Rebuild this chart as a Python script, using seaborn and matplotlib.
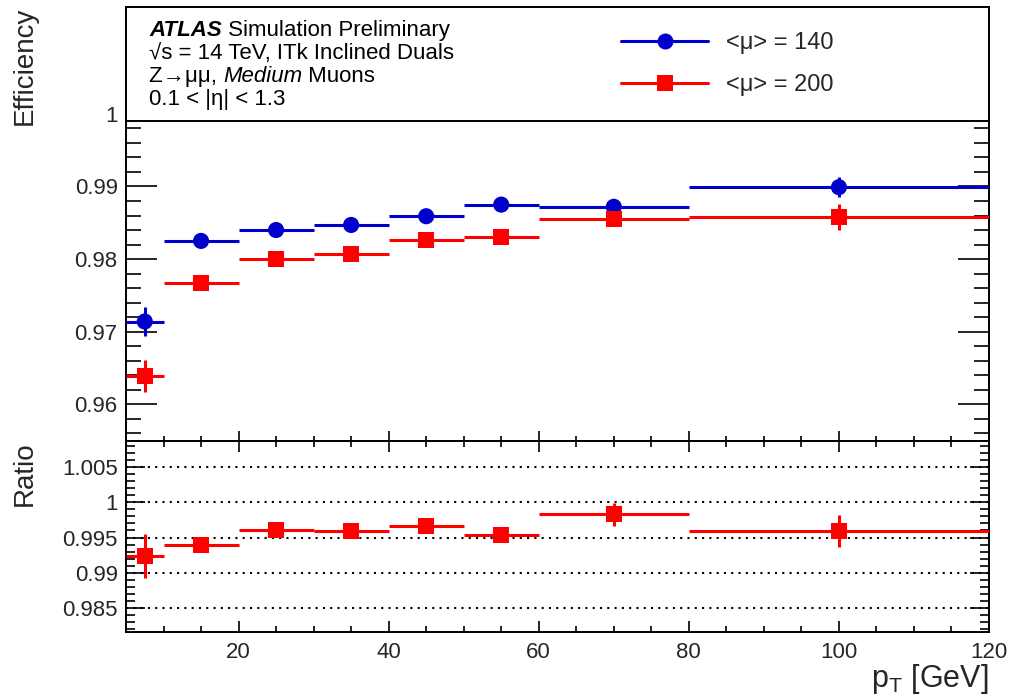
import matplotlib
matplotlib.use("Agg")
import matplotlib.pyplot as plt
import numpy as np
import pandas as pd
import seaborn as sns
from matplotlib.ticker import MultipleLocator, FixedLocator, FuncFormatter
from matplotlib.lines import Line2D
from matplotlib.patches import Rectangle

# ---------------- data ----------------
pt_center = [7.5, 15, 25, 35, 45, 55, 70, 100]
pt_halfwidth = [2.5, 5, 5, 5, 5, 5, 10, 20]

eff_mu140 = [0.9714, 0.9825, 0.9840, 0.9847, 0.9859, 0.9875, 0.9872, 0.9899]
err_mu140 = [0.0020, 0.0003, 0.0003, 0.0003, 0.0003, 0.0003, 0.0004, 0.0014]
eff_mu200 = [0.9639, 0.9767, 0.9800, 0.9807, 0.9826, 0.9830, 0.9855, 0.9858]
err_mu200 = [0.0022, 0.0004, 0.0003, 0.0003, 0.0003, 0.0003, 0.0005, 0.0018]

ratio = [0.9924, 0.9939, 0.9960, 0.9959, 0.9967, 0.9954, 0.9983, 0.9959]
ratio_err = [0.0031, 0.0005, 0.0004, 0.0004, 0.0004, 0.0004, 0.0016, 0.0023]

series_labels = ["<μ> = 140", "<μ> = 200"]
series_colors = ["#0000CC", "#FF0000"]
series_markers = ["o", "s"]

top_yticks = [0.96, 0.97, 0.98, 0.99, 1.0]
ratio_yticks = [0.985, 0.99, 0.995, 1.0, 1.005]

info_lines = [
    [("ATLAS", "bold", "italic"), (" Simulation Preliminary", "normal", "normal")],
    [("√s = 14 TeV, ITk Inclined Duals", "normal", "normal")],
    [("Z→μμ, ", "normal", "normal"), ("Medium", "normal", "italic"), (" Muons", "normal", "normal")],
    [("0.1 < |η| < 1.3", "normal", "normal")],
]

# ---------------- style ----------------
sns.set_theme(style="white")
plt.rcParams["font.family"] = ["Liberation Sans", "DejaVu Sans"]
plt.rcParams["mathtext.fontset"] = "custom"
plt.rcParams["mathtext.rm"] = "Liberation Sans"
plt.rcParams["mathtext.it"] = "Liberation Sans:italic"
plt.rcParams["axes.edgecolor"] = "black"
plt.rcParams["axes.linewidth"] = 1.4

df = pd.DataFrame({
    "pt": pt_center * 2,
    "eff": eff_mu140 + eff_mu200,
    "series": [series_labels[0]] * len(pt_center) + [series_labels[1]] * len(pt_center),
})
df_ratio = pd.DataFrame({"pt": pt_center, "ratio": ratio})

fig = plt.figure(figsize=(10.09, 6.96), dpi=100)
L, W = 126 / 1009, (989 - 126) / 1009
ax1 = fig.add_axes([L, 1 - 441 / 696, W, (441 - 7) / 696])
ax2 = fig.add_axes([L, 1 - 632 / 696, W, (632 - 441) / 696], sharex=ax1)

# ---------------- top panel ----------------
for lab, col, effs, errs in zip(series_labels, series_colors,
                                [eff_mu140, eff_mu200], [err_mu140, err_mu200]):
    ax1.errorbar(pt_center, effs, xerr=pt_halfwidth, yerr=errs, fmt="none",
                 ecolor=col, elinewidth=2.2, capsize=0, zorder=3)

sns.scatterplot(data=df, x="pt", y="eff", hue="series", style="series",
                palette=dict(zip(series_labels, series_colors)),
                markers=dict(zip(series_labels, series_markers)),
                s=135, linewidth=0, legend=False, ax=ax1, zorder=4)

ax1.set_xlim(5, 120)
ax1.set_ylim(0.95494, 1.01472)
ax1.yaxis.set_major_locator(FixedLocator(top_yticks))
ax1.yaxis.set_minor_locator(MultipleLocator(0.002))
ax1.yaxis.set_major_formatter(FuncFormatter(lambda v, p: f"{v:g}"))
ax1.xaxis.set_major_locator(MultipleLocator(20))
ax1.xaxis.set_minor_locator(MultipleLocator(5))
ax1.tick_params(axis="y", which="major", direction="in", length=22, width=1.2,
                left=True, right=True, labelsize=16, pad=6, color="black")
ax1.tick_params(axis="y", which="minor", direction="in", length=11, width=1.2,
                left=True, right=True, color="black")
ax1.tick_params(axis="x", which="major", direction="in", length=7, width=1.2,
                top=True, bottom=True, labelbottom=False, color="black")
ax1.tick_params(axis="x", which="minor", direction="in", length=3.6, width=1.2,
                top=True, bottom=True, color="black")
ax1.set_xlabel("")
ax1.set_ylabel("Efficiency", fontsize=20, loc="top")
ax1.yaxis.set_label_coords(-0.102, 1.0)

# info box at top
box_y0 = (441 - 120.7) / 434
ax1.add_patch(Rectangle((0, box_y0), 1, 1 - box_y0, transform=ax1.transAxes,
                        facecolor="white", edgecolor="black", lw=1.4,
                        zorder=5, clip_on=False))

x_text = (149 - 126) / 863
baselines_px = [36, 59, 82, 105]
for line, bpx in zip(info_lines, baselines_px):
    y = (441 - bpx) / 434
    prev = None
    for txt, wt, st in line:
        if prev is None:
            prev = ax1.text(x_text, y, txt, transform=ax1.transAxes, fontsize=16,
                            fontweight=wt, fontstyle=st, va="baseline", ha="left",
                            zorder=6, color="black")
        else:
            prev = ax1.annotate(txt, xy=(1, 0), xycoords=prev, fontsize=16,
                                fontweight=wt, fontstyle=st, va="bottom", ha="left",
                                zorder=6, color="black")

handles = [Line2D([], [], color=c, lw=2.2, marker=m, markersize=11.5,
                  markeredgewidth=0) for c, m in zip(series_colors, series_markers)]
leg = ax1.legend(handles, series_labels, loc="upper left",
                 bbox_to_anchor=((621 - 126) / 863, 0.942), frameon=False,
                 fontsize=17, handlelength=3.7, handletextpad=0.75,
                 labelspacing=0.85, borderpad=0, borderaxespad=0)
leg.set_zorder(7)

# ---------------- ratio panel ----------------
ax2.errorbar(pt_center, ratio, xerr=pt_halfwidth, yerr=ratio_err, fmt="none",
             ecolor=series_colors[1], elinewidth=2.2, capsize=0, zorder=3)
sns.scatterplot(data=df_ratio, x="pt", y="ratio", color=series_colors[1],
                marker="s", s=135, linewidth=0, legend=False, ax=ax2, zorder=4)

ax2.set_ylim(0.98163, 1.00866)
ax2.set_xlim(5, 120)
ax2.yaxis.set_major_locator(FixedLocator(ratio_yticks))
ax2.yaxis.set_minor_locator(MultipleLocator(0.001))
ax2.yaxis.set_major_formatter(FuncFormatter(lambda v, p: f"{v:g}"))
ax2.xaxis.set_major_formatter(FuncFormatter(lambda v, p: f"{v:g}"))
ax2.grid(False)
ax2.yaxis.grid(True, which="major", color="black", linestyle=(0, (1, 2.5)), lw=1.5)
ax2.set_axisbelow(True)
ax2.tick_params(axis="y", which="major", direction="in", length=14, width=1.2,
                left=True, right=True, labelsize=16, pad=6, color="black")
ax2.tick_params(axis="y", which="minor", direction="in", length=6.5, width=1.2,
                left=True, right=True, color="black")
ax2.tick_params(axis="x", which="major", direction="in", length=8, width=1.2,
                top=True, bottom=True, labelsize=16, pad=7, color="black")
ax2.tick_params(axis="x", which="minor", direction="in", length=4, width=1.2,
                top=True, bottom=True, color="black")
ax2.set_ylabel("Ratio", fontsize=20, loc="top")
ax2.yaxis.set_label_coords(-0.102, 1.0)
ax2.set_xlabel(r"$\mathregular{p_T}$ [GeV]", fontsize=22, loc="right")
ax2.xaxis.set_label_coords(1.0, -0.155)

for ax in (ax1, ax2):
    for sp in ax.spines.values():
        sp.set_visible(True)
        sp.set_color("black")
        sp.set_linewidth(1.4)

fig.savefig("out.png", dpi=100, facecolor="white")
